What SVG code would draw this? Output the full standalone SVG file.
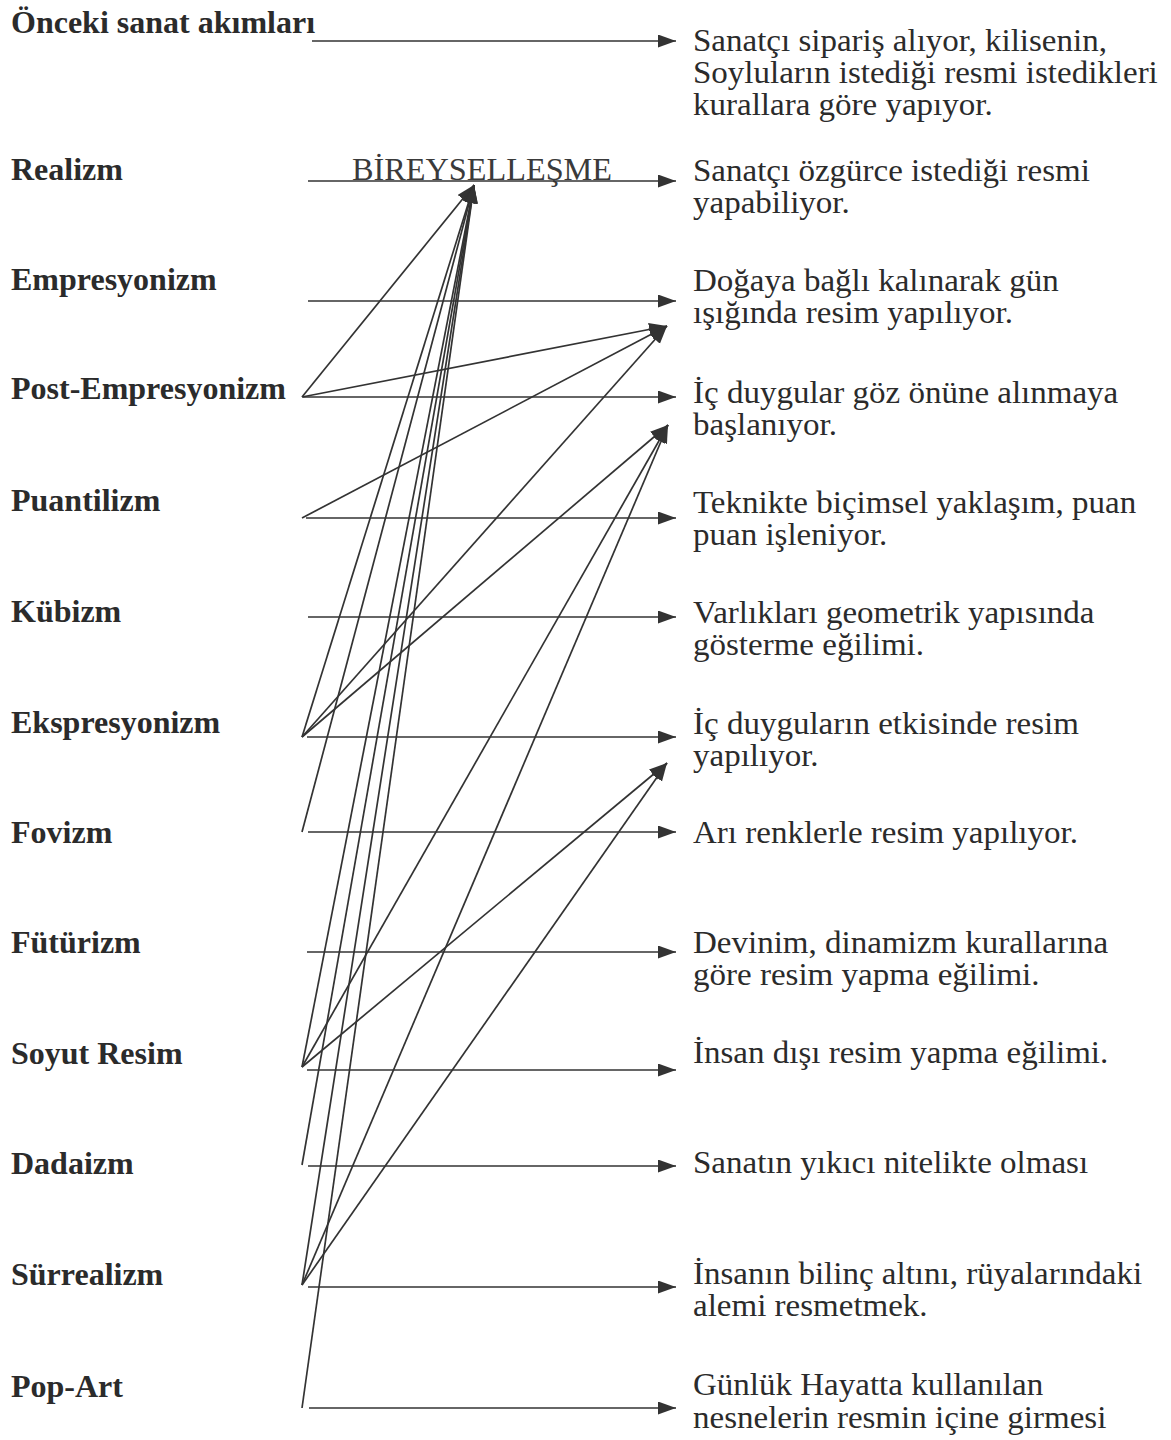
<svg xmlns="http://www.w3.org/2000/svg" width="1171" height="1440" viewBox="0 0 1171 1440">
<defs>
<marker id="ah" markerUnits="userSpaceOnUse" markerWidth="19" markerHeight="14" refX="18" refY="6.5" orient="auto">
<path d="M0,0 L18,6.5 L0,13 Z" fill="#333"/>
</marker>
<style>
.l{font-family:"Liberation Serif","Times New Roman",serif;font-weight:bold;font-size:32px;fill:#2b2b2b}
.r{font-family:"Liberation Serif","Times New Roman",serif;font-size:31px;fill:#2b2b2b}
.b{font-family:"Liberation Serif","Times New Roman",serif;font-size:31px;fill:#3a3a3a}
#conn line{stroke:#333;stroke-width:1.7;fill:none;marker-end:url(#ah)}
</style>
</defs>
<rect width="1171" height="1440" fill="#fff"/>

<g id="left">
<g id="n-onceki"><text class="l" x="11" y="33">Önceki sanat akımları</text></g>
<g id="n-realizm"><text class="l" x="11" y="180">Realizm</text></g>
<g id="n-empresyonizm"><text class="l" x="11" y="290">Empresyonizm</text></g>
<g id="n-postemp"><text class="l" x="11" y="399">Post-Empresyonizm</text></g>
<g id="n-puantilizm"><text class="l" x="11" y="511">Puantilizm</text></g>
<g id="n-kubizm"><text class="l" x="11" y="622">Kübizm</text></g>
<g id="n-ekspresyonizm"><text class="l" x="11" y="733">Ekspresyonizm</text></g>
<g id="n-fovizm"><text class="l" x="11" y="843">Fovizm</text></g>
<g id="n-futurizm"><text class="l" x="11" y="953">Fütürizm</text></g>
<g id="n-soyut"><text class="l" x="11" y="1064">Soyut Resim</text></g>
<g id="n-dadaizm"><text class="l" x="11" y="1174">Dadaizm</text></g>
<g id="n-surrealizm"><text class="l" x="11" y="1285">Sürrealizm</text></g>
<g id="n-popart"><text class="l" x="11" y="1397">Pop-Art</text></g>
</g>

<g id="n-bireysellesme"><text class="b" x="352" y="180" textLength="260" lengthAdjust="spacingAndGlyphs">BİREYSELLEŞME</text></g>

<g id="right" transform="translate(693,0) scale(1.065,1) translate(-693,0)">
<g id="t-onceki"><text class="r" x="693" y="51">Sanatçı sipariş alıyor, kilisenin,</text><text class="r" x="693" y="83">Soyluların istediği resmi istedikleri</text><text class="r" x="693" y="115">kurallara göre yapıyor.</text></g>
<g id="t-realizm"><text class="r" x="693" y="181">Sanatçı özgürce istediği resmi</text><text class="r" x="693" y="213">yapabiliyor.</text></g>
<g id="t-empresyonizm"><text class="r" x="693" y="291">Doğaya bağlı kalınarak gün</text><text class="r" x="693" y="323">ışığında resim yapılıyor.</text></g>
<g id="t-postemp"><text class="r" x="693" y="403">İç duygular göz önüne alınmaya</text><text class="r" x="693" y="435">başlanıyor.</text></g>
<g id="t-puantilizm"><text class="r" x="693" y="513">Teknikte biçimsel yaklaşım, puan</text><text class="r" x="693" y="545">puan işleniyor.</text></g>
<g id="t-kubizm"><text class="r" x="693" y="623">Varlıkları geometrik yapısında</text><text class="r" x="693" y="655">gösterme eğilimi.</text></g>
<g id="t-ekspresyonizm"><text class="r" x="693" y="734">İç duyguların etkisinde resim</text><text class="r" x="693" y="766">yapılıyor.</text></g>
<g id="t-fovizm"><text class="r" x="693" y="843">Arı renklerle resim yapılıyor.</text></g>
<g id="t-futurizm"><text class="r" x="693" y="953">Devinim, dinamizm kurallarına</text><text class="r" x="693" y="985">göre resim yapma eğilimi.</text></g>
<g id="t-soyut"><text class="r" x="693" y="1063">İnsan dışı resim yapma eğilimi.</text></g>
<g id="t-dadaizm"><text class="r" x="693" y="1173">Sanatın yıkıcı nitelikte olması</text></g>
<g id="t-surrealizm"><text class="r" x="693" y="1284">İnsanın bilinç altını, rüyalarındaki</text><text class="r" x="693" y="1316">alemi resmetmek.</text></g>
<g id="t-popart"><text class="r" x="693" y="1395">Günlük Hayatta kullanılan</text><text class="r" x="693" y="1428">nesnelerin resmin içine girmesi</text></g>
</g>

<g id="conn">
<line x1="312" y1="41" x2="676" y2="41"/>
<line x1="308" y1="181" x2="676" y2="181"/>
<line x1="308" y1="301" x2="676" y2="301"/>
<line x1="303" y1="397" x2="676" y2="397"/>
<line x1="306" y1="518" x2="676" y2="518"/>
<line x1="308" y1="617" x2="676" y2="617"/>
<line x1="307" y1="737" x2="676" y2="737"/>
<line x1="308" y1="832" x2="676" y2="832"/>
<line x1="307" y1="952" x2="676" y2="952"/>
<line x1="307" y1="1070" x2="676" y2="1070"/>
<line x1="308" y1="1166" x2="676" y2="1166"/>
<line x1="308" y1="1287" x2="676" y2="1287"/>
<line x1="309" y1="1408" x2="676" y2="1408"/>

<line x1="302" y1="397" x2="474" y2="185"/>
<line x1="302" y1="397" x2="667" y2="326"/>
<line x1="302" y1="518" x2="667" y2="326"/>
<line x1="302" y1="737" x2="474" y2="185"/>
<line x1="302" y1="737" x2="667" y2="326"/>
<line x1="302" y1="737" x2="668" y2="425"/>
<line x1="302" y1="832" x2="474" y2="185"/>
<line x1="302" y1="1067" x2="474" y2="185"/>
<line x1="302" y1="1067" x2="668" y2="425"/>
<line x1="302" y1="1067" x2="667" y2="763"/>
<line x1="302" y1="1165" x2="474" y2="185"/>
<line x1="302" y1="1285" x2="474" y2="185"/>
<line x1="302" y1="1285" x2="668" y2="425"/>
<line x1="302" y1="1285" x2="667" y2="763"/>
<line x1="302" y1="1408" x2="474" y2="185"/>
</g>
</svg>
